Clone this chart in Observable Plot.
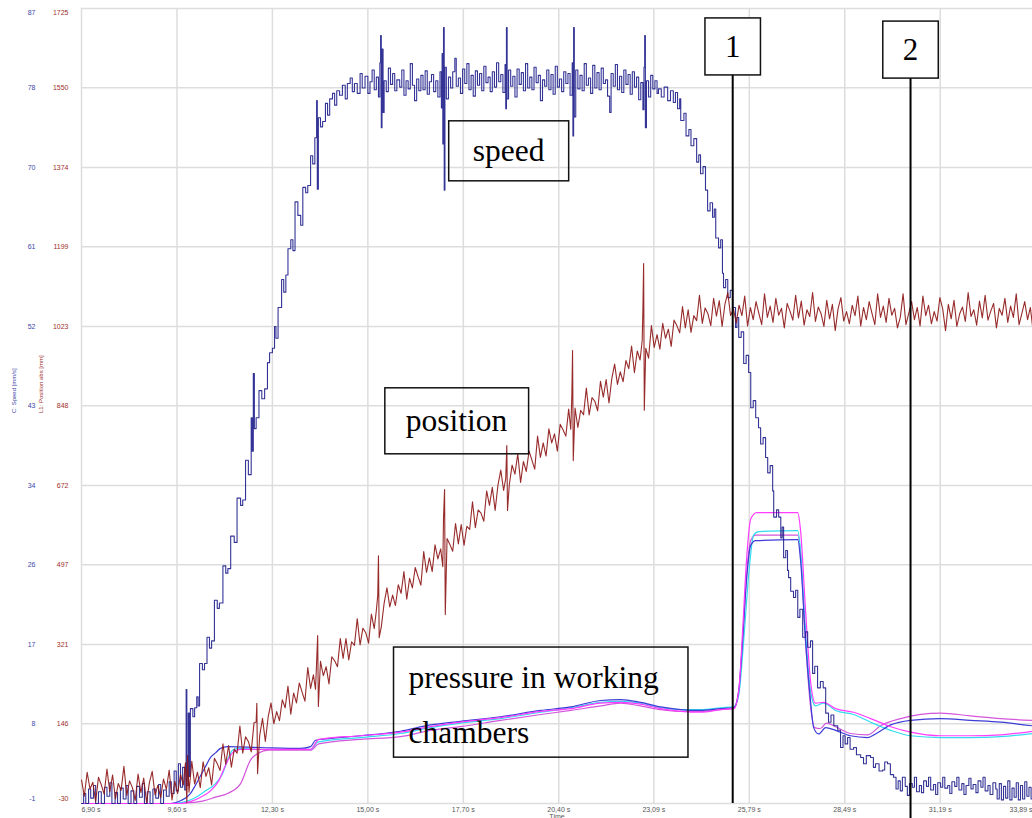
<!DOCTYPE html>
<html><head><meta charset="utf-8">
<script src="https://cdn.jsdelivr.net/npm/d3@7"></script>
<script src="https://cdn.jsdelivr.net/npm/@observablehq/plot@0.6"></script>
<style>body{margin:0;background:#fff}</style>
</head><body><div id="chart"></div>
<script>
// ---- axis ticks ----
const timeTicks = [6.90, 9.60, 12.30, 15.00, 17.70, 20.40, 23.09, 25.79, 28.49, 31.19, 33.89];
const timeTickLabels = ["6,90 s","9,60 s","12,30 s","15,00 s","17,70 s","20,40 s","23,09 s","25,79 s","28,49 s","31,19 s","33,89 s"];
const positionTicks = [-30, 146, 321, 497, 672, 848, 1023, 1199, 1374, 1550, 1725];
const speedTickLabels = ["-1","8","17","26","34","43","52","61","70","78","87"];

// ---- C: Speed [mm/s]  (time s, speed) ----
const speed = [
[6.90,-1],[6.96,0.1],[7.02,-1],[7.10,0.6],[7.16,-0.4],[7.24,1.0],[7.30,-1],[7.38,0.3],[7.46,-1],[7.55,0.8],[7.62,-0.2],[7.70,1.3],[7.76,-1],[7.85,0.2],[7.92,-1],[8.00,0.7],[8.08,-0.5],[8.16,1.0],[8.22,-1],[8.30,0.4],[8.38,-1],[8.46,0.9],[8.54,-0.3],[8.62,1.2],[8.68,-1],[8.76,0.3],[8.84,-1],[8.92,0.6],[9.00,-0.4],[9.08,1.1],[9.14,-1],[9.22,0.5],[9.30,-0.2],[9.38,1.4],[9.44,0.1],[9.52,2.6],[9.58,0.4],[9.64,3.4],[9.70,0.8],[9.76,3.0],[9.82,0.5],[9.86,11.6],[9.88,1.0],[9.92,9.0],[9.95,2.0],[9.98,9.5],
[10.05,8.6],[10.10,9.6],[10.16,10.8],[10.20,9.8],[10.24,14.5],[10.32,13.8],[10.38,14.5],[10.45,17.4],[10.52,16.2],[10.58,17.0],[10.66,21.5],[10.74,20.6],[10.80,21.2],[10.90,25.3],[10.98,24.5],[11.04,25.0],[11.12,28.6],[11.22,27.9],[11.30,32.8],[11.40,32.0],[11.46,32.6],[11.54,37.0],[11.62,35.4],[11.70,41.7],[11.73,38.0],[11.76,46.6],[11.79,40.5],[11.84,41.7],[11.92,44.7],[12.00,43.8],[12.08,44.9],[12.16,47.8],[12.22,48.9],[12.30,49.4],[12.36,51.8],[12.40,50.5],[12.46,53.9],[12.56,57.0],[12.62,55.6],[12.68,57.5],[12.74,60.4],[12.82,61.4],[12.88,60.2],[12.94,65.6],[13.02,64.1],[13.10,63.0],[13.16,67.2],[13.24,66.6],[13.30,67.4],[13.38,70.7],[13.44,69.8],[13.50,72.7],[13.55,76.8],[13.57,67.0],[13.60,74.9],[13.66,73.9],[13.72,74.5],[13.80,76.5],[13.86,75.2],[13.92,77.0],[14.00,77.6],[14.06,76.3],[14.12,77.9],[14.20,77.4],[14.28,78.5],[14.36,77.0],[14.42,78.7],[14.50,79.3],[14.56,77.8],[14.62,78.7],[14.70,77.6],[14.78,79.8],
[14.84,78.2],[14.92,79.5],[15.00,77.6],[15.06,78.9],[15.12,80.2],[15.18,78.0],[15.24,79.4],[15.30,77.2],[15.34,81.0],[15.36,84.0],[15.38,73.8],[15.40,82.5],[15.43,75.5],[15.46,79.0],[15.52,77.8],[15.58,80.4],[15.64,78.6],[15.70,79.8],[15.76,77.9],[15.82,79.1],[15.90,78.3],[15.96,80.2],[16.02,77.4],[16.08,79.0],[16.14,78.1],[16.20,80.9],[16.26,78.5],[16.32,76.8],[16.38,79.2],[16.44,77.9],[16.50,79.6],[16.56,78.0],[16.62,80.1],[16.68,77.5],[16.74,78.9],[16.80,79.7],[16.86,77.8],[16.92,79.0],[16.98,77.2],[17.04,80.0],[17.08,76.0],[17.10,82.0],[17.12,72.0],[17.14,84.9],[17.16,66.9],[17.18,80.5],[17.22,77.0],[17.28,79.4],[17.34,78.2],[17.40,80.0],[17.46,81.5],[17.50,78.4],[17.56,79.3],[17.62,77.6],[17.68,80.3],[17.74,78.7],[17.80,80.9],[17.86,78.0],[17.92,79.6],[17.98,77.3],[18.04,80.1],[18.10,78.5],[18.16,79.8],[18.22,77.9],[18.28,80.6],[18.34,78.8],[18.40,79.4],[18.46,77.8],[18.52,80.0],[18.58,78.3],[18.64,81.0],[18.70,78.9],[18.76,79.7],[18.82,77.7],[18.88,80.8],[18.90,75.9],[18.92,84.9],[18.94,77.0],[18.98,80.2],
[19.04,78.4],[19.10,79.5],[19.16,77.2],[19.22,80.3],[19.28,78.6],[19.34,79.9],[19.40,77.9],[19.46,80.9],[19.52,78.2],[19.58,79.4],[19.64,78.0],[19.70,80.5],[19.76,78.8],[19.82,79.6],[19.88,76.8],[19.94,79.1],[20.00,78.4],[20.06,80.2],[20.12,78.0],[20.18,79.7],[20.24,77.5],[20.30,80.6],[20.36,78.3],[20.42,79.2],[20.48,77.8],[20.54,80.0],[20.60,78.7],[20.66,79.8],[20.72,77.4],[20.78,81.0],[20.80,72.9],[20.82,84.9],[20.84,75.0],[20.88,80.2],[20.94,78.1],[21.00,79.6],[21.06,77.9],[21.12,80.9],[21.18,78.5],[21.24,79.3],[21.30,77.6],[21.36,80.7],[21.42,78.2],[21.48,79.9],[21.54,78.0],[21.60,80.4],[21.66,78.7],[21.72,79.1],[21.78,77.3],[21.84,75.5],[21.88,79.8],[21.94,78.4],[22.00,80.8],[22.06,78.0],[22.12,79.5],[22.18,77.7],[22.24,80.2],[22.30,78.6],[22.36,79.7],[22.42,77.5],[22.48,80.0],[22.54,78.3],[22.60,79.4],[22.66,76.9],[22.72,78.8],[22.78,75.8],[22.81,80.5],[22.83,84.0],[22.85,73.8],[22.88,79.0],[22.94,77.2],[23.00,79.6],[23.06,78.1],[23.12,79.0],[23.18,77.6],
[23.22,78.1],[23.30,77.2],[23.38,78.3],[23.48,76.8],[23.56,77.9],[23.64,76.6],[23.70,77.7],[23.76,75.9],[23.82,77.0],[23.85,74.6],[23.94,75.4],[24.00,72.9],[24.08,73.6],[24.14,71.8],[24.22,72.6],[24.30,70.0],[24.36,70.8],[24.41,68.7],[24.48,69.5],[24.55,66.9],[24.61,64.6],[24.68,65.5],[24.75,63.9],[24.80,64.8],[24.84,61.6],[24.92,60.5],[24.98,61.4],[25.03,57.7],[25.06,56.1],[25.12,57.0],[25.18,55.0],[25.25,55.8],[25.32,53.9],[25.40,51.7],[25.44,52.8],[25.49,50.6],[25.56,51.2],[25.63,47.7],[25.70,48.6],[25.77,46.7],[25.83,42.8],[25.90,43.6],[25.97,41.7],[26.05,40.6],[26.11,38.8],[26.18,39.5],[26.25,37.3],[26.31,35.6],[26.38,36.4],[26.45,33.6],[26.48,30.7],[26.56,31.5],[26.62,30.7],[26.68,28.4],[26.72,29.6],[26.76,26.2],[26.82,27.0],[26.87,24.8],[26.90,24.0],[26.96,22.5],[27.04,21.8],[27.10,22.6],[27.16,19.6],[27.22,20.5],[27.30,17.4],[27.38,18.0],[27.44,16.3],[27.52,17.0],[27.58,13.4],[27.64,14.2],[27.72,11.8],[27.80,12.5],[27.88,11.8],[27.95,9.0],[28.03,8.0],[28.10,8.8],[28.18,7.6],[28.29,7.1],[28.37,5.2],[28.44,6.5],[28.50,5.6],[28.57,6.3],[28.64,5.0],[28.74,5.2],[28.82,4.4],[28.94,4.1],[29.02,3.4],[29.10,4.3],[29.22,4.1],[29.30,3.0],[29.36,3.4],[29.46,2.6],[29.56,2.7],[29.62,3.6],[29.70,3.4],[29.78,2.2],[29.87,1.9],
[29.94,0.6],[30.00,1.5],[30.06,0.4],[30.12,1.9],[30.20,0.9],[30.26,-0.1],[30.32,1.2],[30.40,0.8],[30.46,1.9],[30.52,0.3],[30.60,1.0],[30.66,0.2],[30.72,1.5],[30.80,0.9],[30.86,1.9],[30.92,0.5],[31.00,1.1],[31.06,0.0],[31.12,1.3],[31.20,0.8],[31.26,1.9],[31.32,0.7],[31.40,1.0],[31.46,0.1],[31.52,1.4],[31.60,0.9],[31.66,1.9],[31.72,0.5],[31.80,1.2],[31.86,0.0],[31.92,1.0],[32.00,1.8],[32.06,0.6],[32.12,1.1],[32.20,0.2],[32.26,1.5],[32.34,0.8],[32.40,1.9],[32.46,0.4],[32.54,1.0],[32.60,0.0],[32.68,1.3],[32.76,0.6],
[32.80,-0.5],[32.86,1.2],[32.92,-0.6],[32.98,0.9],[33.04,-0.4],[33.10,1.5],[33.16,-0.6],[33.22,0.7],[33.28,-0.3],[33.34,1.3],[33.40,-0.6],[33.46,1.0],[33.52,-0.5],[33.58,1.4],[33.64,-0.2],[33.70,0.8],[33.76,-0.5],[33.80,-0.5]
];

// ---- L1: Position abs [mm]  (time s, mm) ----
const position = [
[6.90,22],[6.98,-14],[7.06,39],[7.14,2],[7.22,17],[7.30,-26],[7.38,28],[7.46,11],[7.54,-9],[7.62,46],[7.70,-4],[7.78,33],[7.86,-20],[7.94,14],[8.02,-1],[8.10,52],[8.18,-12],[8.26,20],[8.34,5],[8.42,-23],[8.50,35],[8.58,-6],[8.66,26],[8.74,-28],[8.82,16],[8.90,41],[8.98,-11],[9.06,10],[9.14,-17],[9.22,24],[9.30,1],[9.38,44],[9.46,-22],[9.54,19],[9.62,-8],
[9.70,34],[9.78,11],[9.84,60],[9.88,-28],[9.90,76],[9.94,-5],[10.02,63],[10.10,13],[10.18,39],[10.26,5],[10.34,62],[10.42,30],[10.50,49],[10.58,11],[10.66,70],[10.74,58],[10.82,43],[10.90,102],[10.98,57],[11.06,98],[11.14,50],[11.22,90],[11.30,81],[11.38,141],[11.46,81],[11.54,117],[11.62,107],[11.70,84],[11.78,148],[11.84,150],[11.86,191],[11.88,36],[11.94,120],
[12.02,158],[12.10,107],[12.18,161],[12.26,192],[12.34,146],[12.42,173],[12.50,153],[12.58,199],[12.66,181],[12.74,229],[12.82,167],[12.90,214],[12.98,192],[13.06,236],[13.14,216],[13.22,196],[13.30,270],[13.38,224],[13.46,254],[13.52,222],[13.56,300],[13.58,341],[13.60,184],[13.66,284],[13.74,252],[13.82,272],[13.90,234],[13.98,294],
[14.06,285],[14.14,272],[14.22,334],[14.30,290],[14.38,334],[14.46,287],[14.54,327],[14.62,319],[14.70,378],[14.78,320],[14.86,357],[14.94,347],[15.02,324],[15.10,388],[15.18,356],[15.24,396],[15.28,430],[15.30,517],[15.32,336],[15.38,360],[15.46,412],[15.54,446],[15.62,404],[15.70,430],[15.78,407],[15.86,453],[15.94,434],
[16.02,482],[16.10,421],[16.18,467],[16.26,446],[16.34,491],[16.42,471],[16.50,452],[16.58,526],[16.66,480],[16.74,512],[16.82,482],[16.90,541],[16.98,510],[17.06,532],[17.12,493],[17.14,600],[17.17,663],[17.19,387],[17.24,555],[17.32,542],[17.40,527],[17.48,588],[17.56,543],[17.64,586],[17.72,540],[17.80,582],[17.88,575],[17.96,636],
[18.04,579],[18.12,618],[18.20,611],[18.28,593],[18.36,660],[18.44,628],[18.52,668],[18.60,617],[18.68,673],[18.76,706],[18.84,661],[18.90,688],[18.93,760],[18.95,617],[19.00,673],[19.08,717],[19.16,697],[19.24,742],[19.32,679],[19.40,725],[19.48,703],[19.56,748],[19.64,728],[19.72,708],[19.80,781],[19.88,734],[19.96,766],
[20.04,737],[20.12,797],[20.20,766],[20.28,786],[20.36,748],[20.44,807],[20.52,795],[20.60,781],[20.68,841],[20.74,796],[20.77,870],[20.79,970],[20.81,727],[20.86,843],[20.94,800],
[21.02,838],[21.10,828],[21.18,887],[21.26,828],[21.34,866],[21.42,858],[21.50,837],[21.58,902],[21.66,867],[21.74,906],[21.82,854],[21.90,908],[21.98,940],
[22.06,895],[22.14,923],[22.22,901],[22.30,948],[22.38,930],[22.46,980],[22.54,921],[22.62,969],[22.70,949],[22.76,992],[22.78,1060],[22.80,1162],[22.82,838],[22.86,975],[22.94,953],
[23.02,1025],[23.10,977],[23.18,1005],[23.26,973],[23.34,1030],[23.42,997],[23.50,1017],[23.58,979],[23.66,1037],[23.74,1025],[23.82,1009],[23.90,1067],[23.98,1020],
[24.06,1060],[24.14,1010],[24.22,1047],[24.30,1036],[24.38,1092],[24.46,1030],[24.54,1064],[24.62,1051],[24.70,1025],[24.78,1085],[24.86,1046],[24.94,1080],
[25.02,1023],[25.10,1072],[25.18,1098],[25.26,1047],[25.34,1062],[25.42,1031],[25.50,1070],[25.58,1047],[25.66,1090],[25.74,1024],[25.82,1065],[25.90,1038],[25.98,1078],
[26.06,1052],[26.14,1027],[26.22,1095],[26.30,1043],[26.38,1068],[26.46,1032],[26.54,1085],[26.62,1048],[26.70,1063],[26.78,1020],[26.86,1074],[26.94,1057],
[27.02,1037],[27.10,1092],[27.18,1042],[27.26,1079],[27.34,1026],[27.42,1060],[27.50,1045],[27.58,1098],[27.66,1034],[27.74,1066],[27.82,1051],[27.90,1023],[27.98,1081],
[28.06,1040],[28.14,1072],[28.22,1014],[28.30,1062],[28.38,1087],[28.46,1035],[28.54,1056],[28.62,1029],[28.70,1070],[28.78,1047],[28.86,1090],[28.94,1024],
[29.02,1065],[29.10,1038],[29.18,1078],[29.26,1052],[29.34,1027],[29.42,1095],[29.50,1043],[29.58,1068],[29.66,1032],[29.74,1085],[29.82,1048],[29.90,1063],[29.98,1020],
[30.06,1043],[30.14,1095],[30.22,1027],[30.30,1052],[30.38,1078],[30.46,1038],[30.54,1065],[30.62,1024],[30.70,1090],[30.78,1047],[30.86,1070],[30.94,1029],
[31.02,1056],[31.10,1035],[31.18,1087],[31.26,1062],[31.34,1014],[31.42,1072],[31.50,1040],[31.58,1081],[31.66,1023],[31.74,1051],[31.82,1066],[31.90,1034],[31.98,1098],
[32.06,1045],[32.14,1060],[32.22,1026],[32.30,1079],[32.38,1042],[32.46,1092],[32.54,1037],[32.62,1057],[32.70,1074],[32.78,1020],[32.86,1063],[32.94,1048],
[33.02,1085],[33.10,1032],[33.18,1068],[33.26,1043],[33.34,1095],[33.42,1027],[33.50,1052],[33.58,1078],[33.66,1038],[33.74,1065],[33.80,1024]
];

// ---- pressure in working chambers (read against the speed axis) ----
const pressureBlue = [[6.90,-1.0],[9.42,-1.0],[9.70,-0.7],[9.98,0.1],[10.12,1.0],[10.27,2.1],[10.41,3.1],[10.55,4.1],[10.69,4.6],[10.83,5.1],[11.03,5.3],[11.96,5.2],[13.10,5.1],[13.38,5.3],[13.52,6.0],[13.94,6.2],[14.79,6.5],[15.92,7.0],[16.77,7.7],[17.62,8.1],[18.75,8.6],[19.89,9.3],[20.74,9.7],[21.58,10.4],[22.15,10.5],[22.71,10.2],[23.28,9.7],[23.85,9.4],[24.41,9.3],[24.98,9.5],[25.35,9.6],[25.49,11.5],[25.60,17.0],[25.71,23.7],[25.83,27.6],[25.97,28.1],[27.16,28.2],[27.24,25.9],[27.38,17.0],[27.52,10.4],[27.61,7.4],[27.75,6.7],[27.95,7.4],[28.23,7.1],[28.65,6.5],[29.14,6.3],[29.36,6.7],[29.79,7.7],[30.35,8.2],[31.20,8.4],[32.05,8.2],[32.90,8.0],[33.80,7.6]];
const pressureCyan = [[6.90,-1.0],[9.56,-1.0],[9.84,-0.8],[10.07,-0.45],[10.41,0.4],[10.69,1.2],[10.89,2.3],[11.03,3.8],[11.17,4.9],[11.34,5.1],[11.96,5.0],[13.38,5.0],[13.58,5.8],[14.79,6.3],[15.92,6.75],[16.77,7.4],[17.62,7.9],[18.75,8.4],[19.89,9.1],[20.74,9.6],[21.58,10.2],[22.15,10.3],[22.71,10.1],[23.28,9.6],[23.85,9.4],[24.41,9.4],[24.98,9.6],[25.35,9.7],[25.49,11.0],[25.63,17.0],[25.77,24.2],[25.91,28.7],[26.05,29.1],[27.16,29.2],[27.24,27.0],[27.38,18.1],[27.52,11.5],[27.66,9.8],[27.89,10.1],[28.23,9.3],[28.74,8.85],[29.22,8.0],[29.79,7.1],[30.35,6.5],[31.20,6.3],[32.05,6.3],[32.90,6.4],[33.80,6.75]];
const pressureMagenta = [[6.90,-1.0],[9.70,-1.0],[9.98,-0.8],[10.27,-0.3],[10.55,0.4],[10.78,1.5],[10.97,3.2],[11.17,4.6],[11.40,5.0],[13.38,5.0],[13.61,6.1],[14.79,6.5],[15.92,6.9],[16.77,7.5],[17.62,8.0],[18.75,8.5],[19.89,9.2],[20.74,9.5],[21.58,10.1],[22.15,10.2],[22.71,10.0],[23.28,9.5],[23.85,9.2],[24.41,9.1],[24.98,9.4],[25.35,9.5],[25.49,11.5],[25.60,18.1],[25.71,25.9],[25.83,30.5],[26.00,31.2],[27.16,31.2],[27.24,29.2],[27.38,20.4],[27.52,12.6],[27.66,10.1],[27.89,10.2],[28.23,9.5],[28.74,9.1],[29.22,8.4],[29.79,7.5],[30.35,6.9],[31.20,6.5],[32.05,6.5],[32.90,6.6],[33.80,7.0]];
const pressureViolet = [[6.90,-1.0],[9.42,-1.0],[9.98,-0.9],[10.35,-0.7],[10.69,-0.3],[11.03,0.1],[11.40,1.2],[11.68,3.8],[11.91,4.6],[12.19,4.9],[13.38,4.9],[13.61,5.6],[14.79,6.1],[15.92,6.4],[16.77,7.1],[17.62,7.5],[18.75,8.2],[19.89,8.85],[20.74,9.3],[21.58,9.8],[22.15,10.1],[22.71,9.8],[23.28,9.4],[23.85,9.2],[24.41,9.2],[24.98,9.4],[25.35,9.5],[25.49,11.2],[25.60,17.0],[25.71,24.2],[25.83,28.1],[25.97,28.7],[27.16,28.7],[27.24,26.5],[27.38,17.0],[27.52,9.8],[27.64,7.4],[27.80,7.3],[27.97,7.9],[28.23,7.5],[28.65,6.75],[29.14,6.6],[29.50,7.6],[30.07,8.4],[31.20,9.0],[32.05,8.7],[32.90,8.4],[33.80,8.2]];

// ---- event markers and notes (time s, position-axis value) ----
const markers = [{label: "1", time: 25.32, top: 1640, bottom: -30}, {label: "2", time: 30.35, top: 1633, bottom: -65}];
const notes = [{text: "speed", time: 18.98, value: 1411}, {text: "position", time: 17.51, value: 815}];
const multiNote = {text: "pressure in working\nchambers", time: 16.15, value: 203};

// ---- styling (kept apart from the data) ----
const boxPad = {"speed": [24, 24, 12, 13], "position": [21, 21, 15, 16], "1": [20, 20, 11, 11], "2": [20, 20, 11, 11], "pressure in working\nchambers": [15, 29, 13, 7]};
const boxFill = {"1": "white", "2": "white"};
const speedToY = s => -30 + (s + 1) * 1755 / 88;  // speed axis is aligned with the position axis
const xDomain = [6.90, 33.80];
const grid = "#dddddd";
const sans = "'Liberation Sans', Arial, sans-serif";
const serif = "'Liberation Serif', 'Times New Roman', serif";

const inDomain = timeTicks.map((t, i) => i).filter(i => timeTicks[i] >= xDomain[0] && timeTicks[i] <= xDomain[1]);
const midX = inDomain.slice(1);

function yLabels(labels, dx, fill) {
  const n = positionTicks.length;
  const base = {frameAnchor: "left", textAnchor: "end", dx, fill, fontSize: 7, fontFamily: sans};
  return [
    Plot.text(d3.range(1, n - 1), {...base, y: i => positionTicks[i], text: i => labels[i]}),
    Plot.text([0], {...base, y: i => positionTicks[i], text: i => labels[i], dy: -5}),
    Plot.text([n - 1], {...base, y: i => positionTicks[i], text: i => labels[i], dy: 4})
  ];
}
const pLine = (data, stroke) => Plot.line(data, {x: d => d[0], y: d => speedToY(d[1]), stroke, strokeWidth: 1.2, curve: "monotone-x"});

const chart = Plot.plot({
  width: 1032, height: 818,
  marginLeft: 81, marginRight: 0, marginTop: 8, marginBottom: 15,
  x: {domain: xDomain, axis: null},
  y: {domain: [-30, 1725], axis: null},
  style: {fontFamily: sans, background: "#fff", overflow: "visible"},
  marks: [
    Plot.ruleX(inDomain.map(i => timeTicks[i]), {stroke: grid, strokeWidth: 1.5}),
    Plot.ruleY(positionTicks, {stroke: grid, strokeWidth: 1.5}),
    pLine(pressureViolet, "#d455dc"),
    pLine(pressureCyan, "#33dcef"),
    pLine(pressureBlue, "#3c3cd6"),
    pLine(pressureMagenta, "#ff3cff"),
    Plot.line(speed, {x: d => d[0], y: d => speedToY(d[1]), curve: "step-after", stroke: "#1e1e8c", strokeWidth: 1.1, strokeOpacity: 0.9}),
    Plot.line(position, {x: d => d[0], y: d => d[1], stroke: "#8c1414", strokeWidth: 1.1, strokeOpacity: 0.9}),
    ...yLabels(positionTicks.map(String), -13, "#a0302a"),
    ...yLabels(speedTickLabels, -46, "#3c46a8"),
    Plot.text(["C: Speed [mm/s]"], {text: d => d, frameAnchor: "left", rotate: -90, dx: -67, dy: 7, fill: "#3c46a8", fontSize: 6, fontFamily: sans}),
    Plot.text(["L1: Position abs [mm]"], {text: d => d, frameAnchor: "left", rotate: -90, dx: -40, dy: 7, fill: "#a0302a", fontSize: 6, fontFamily: sans}),
    Plot.text([inDomain[0]], {x: i => timeTicks[i], text: i => timeTickLabels[i], frameAnchor: "bottom", textAnchor: "start", dy: 8, fill: "#555", fontSize: 7}),
    Plot.text(midX, {x: i => timeTicks[i], text: i => timeTickLabels[i], frameAnchor: "bottom", dy: 8, fill: "#555", fontSize: 7}),
    Plot.text([timeTickLabels.length - 1], {text: i => timeTickLabels[i], frameAnchor: "bottom-right", textAnchor: "end", dy: 8, fill: "#555", fontSize: 7}),
    Plot.text(["Time"], {text: d => d, frameAnchor: "bottom", dy: 15, fill: "#555", fontSize: 7}),
    Plot.ruleX(markers, {x: "time", y1: "bottom", y2: "top", stroke: "#000", strokeWidth: 2}),
    Plot.text(markers, {x: "time", y: "top", text: "label", fontSize: 31, fontFamily: serif, fill: "#000"}),
    Plot.text(notes, {x: "time", y: "value", text: "text", fontSize: 31.5, fontFamily: serif, fill: "#000"}),
    Plot.text([multiNote], {x: "time", y: "value", text: "text", textAnchor: "start", lineHeight: 1.75, fontSize: 31.5, fontFamily: serif, fill: "#000"})
  ]
});
document.getElementById("chart").append(chart);

// boxes drawn around the annotation texts, sized from their rendered extent
const keys = Object.keys(boxPad);
chart.querySelectorAll("text").forEach(el => {
  const key = keys.find(k => k.replace("\n", "") === el.textContent);
  if (!key) return;
  const b = el.getBBox(), p = boxPad[key];
  const r = document.createElementNS("http://www.w3.org/2000/svg", "rect");
  r.setAttribute("x", b.x - p[0]);
  r.setAttribute("y", b.y - p[2]);
  r.setAttribute("width", b.width + p[0] + p[1]);
  r.setAttribute("height", b.height + p[2] + p[3]);
  r.setAttribute("fill", boxFill[key] || "none");
  r.setAttribute("stroke", "#111");
  r.setAttribute("stroke-width", 1.5);
  if (el.getAttribute("transform")) r.setAttribute("transform", el.getAttribute("transform"));
  el.parentNode.insertBefore(r, el);
});
</script>
</body></html>
